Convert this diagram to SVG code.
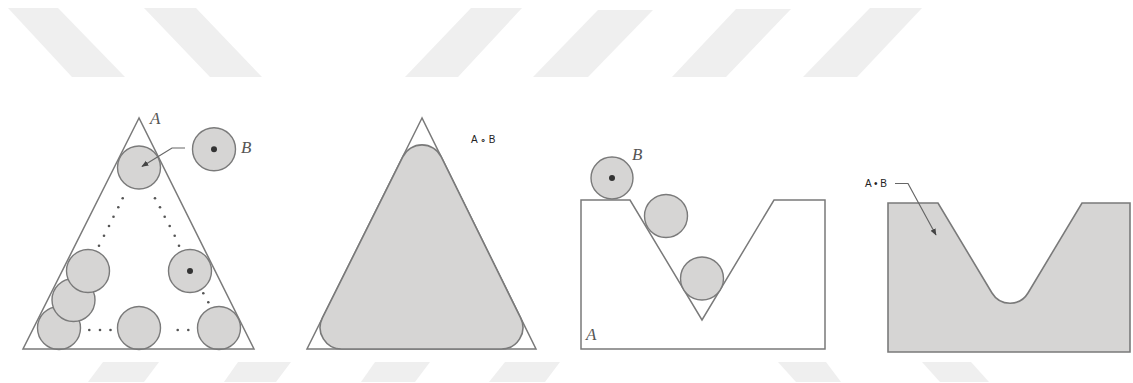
<svg xmlns="http://www.w3.org/2000/svg" width="1133" height="383" viewBox="0 0 1133 383">
<style>
.wm{fill:#efefef}
.ln{fill:none;stroke:#7a7a7a;stroke-width:1.5}
.disk{fill:#d6d5d4;stroke:#7a7a7a;stroke-width:1.4}
.solid{fill:#d6d5d4;stroke:#7a7a7a;stroke-width:1.6}
.dot{fill:#333}
.sd{fill:#555}
.lbl{font-family:"Liberation Serif",serif;font-style:italic;font-size:17px;fill:#555}
.op{font-family:"Liberation Sans",Arial,sans-serif;font-size:10px;fill:#222}
.ldr{fill:none;stroke:#666;stroke-width:1.2}
</style>
<defs>
<marker id="ah" viewBox="0 0 10 10" refX="9" refY="5" markerWidth="7" markerHeight="7" orient="auto" markerUnits="userSpaceOnUse">
<path d="M0,1 L10,5 L0,9 Z" fill="#444"/>
</marker>
</defs>
<rect width="1133" height="383" fill="#fff"/>
<g id="watermark">
<polygon class="wm" points="8,8 58,8 125,77 72,77"/>
<polygon class="wm" points="144,8 196,8 262,77 210,77"/>
<polygon class="wm" points="471,8 522,8 458,77 405,77"/>
<polygon class="wm" points="598,10 653,10 588,77 533,77"/>
<polygon class="wm" points="736,9 791,9 726,77 672,77"/>
<polygon class="wm" points="870,8 922,8 857,77 803,77"/>
<polygon class="wm" points="103,362 159,362 144,382 88,382"/>
<polygon class="wm" points="238,362 291,362 276,382 224,382"/>
<polygon class="wm" points="375,362 430,362 415,382 361,382"/>
<polygon class="wm" points="505,362 560,362 545,382 489,382"/>
<polygon class="wm" points="778,362 826,362 841,382 796,382"/>
<polygon class="wm" points="922,362 971,362 989,382 940,382"/>
</g>
<g id="panel1">
<circle class="disk" cx="139" cy="167.5" r="21.5"/>
<circle class="disk" cx="59" cy="328" r="21.5"/>
<circle class="disk" cx="73.5" cy="300" r="21.5"/>
<circle class="disk" cx="88" cy="271" r="21.5"/>
<circle class="disk" cx="139" cy="328" r="21.5"/>
<circle class="disk" cx="219" cy="328" r="21.5"/>
<circle class="disk" cx="190" cy="271" r="21.5"/>
<circle class="dot" cx="190" cy="271" r="3"/>
<polygon class="ln" points="139,118 23,349 254,349"/>
<g class="sd">
<circle cx="122.7" cy="198.3" r="1.3"/><circle cx="118.3" cy="207.3" r="1.3"/><circle cx="113.5" cy="216.7" r="1.3"/><circle cx="109" cy="226" r="1.3"/><circle cx="104" cy="235.7" r="1.3"/><circle cx="99" cy="245.7" r="1.3"/>
<circle cx="155" cy="198.3" r="1.3"/><circle cx="160" cy="207.3" r="1.3"/><circle cx="164.7" cy="216.7" r="1.3"/><circle cx="169.7" cy="226" r="1.3"/><circle cx="174.7" cy="235.7" r="1.3"/><circle cx="179" cy="245.7" r="1.3"/>
<circle cx="203.3" cy="293.3" r="1.3"/><circle cx="208.3" cy="302.3" r="1.3"/>
<circle cx="89.3" cy="330" r="1.3"/><circle cx="100" cy="330" r="1.3"/><circle cx="110.5" cy="330" r="1.3"/>
<circle cx="177.7" cy="330" r="1.3"/><circle cx="188.3" cy="330" r="1.3"/>
</g>
<text class="lbl" x="150" y="124">A</text>
</g>
<g id="diskB">
<circle class="disk" cx="214" cy="149.3" r="21.5"/>
<circle class="dot" cx="214" cy="149.3" r="3"/>
<text class="lbl" x="241" y="153">B</text>
</g>
<g id="panel2">
<polygon class="ln" points="422,118 307,349 536,349"/>
<path class="solid" d="M402.74,156.86 A21.5,21.5 0 0 1 441.26,156.86 L520.61,317.94 A21.5,21.5 0 0 1 501.34,349 L341.66,349 A21.5,21.5 0 0 1 322.39,317.94 Z"/>
<text class="op" x="471" y="143">A ∘ B</text>
</g>
<g id="panel3">
<path class="ln" d="M581,200 L630,200 L702,320 L774,200 L825,200 L825,349 L581,349 Z"/>
<circle class="disk" cx="612" cy="178" r="21"/>
<circle class="dot" cx="612" cy="178" r="3"/>
<circle class="disk" cx="666" cy="216" r="21.5"/>
<circle class="disk" cx="702" cy="278.5" r="21.5"/>
<text class="lbl" x="632" y="160">B</text>
<text class="lbl" x="586" y="340">A</text>
</g>
<g id="panel4">
<path class="solid" d="M888,203 L938,203 L992,293 A21,21 0 0 0 1028,293 L1082,203 L1130,203 L1130,352 L888,352 Z"/>
<text class="op" x="865" y="187">A • B</text>
</g>
<g id="connectors">
<polyline class="ldr" points="185,148 172,148 142,166.5" marker-end="url(#ah)"/>
<polyline class="ldr" points="895,183.5 908,183.5 936,235" marker-end="url(#ah)"/>
</g>
</svg>
